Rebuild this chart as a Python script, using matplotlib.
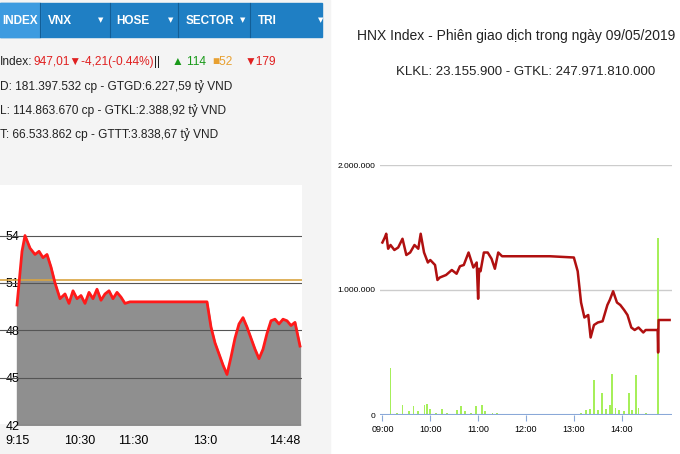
import matplotlib
matplotlib.use("Agg")
import matplotlib.pyplot as plt
from matplotlib.patches import Rectangle
import numpy as np

plt.rcParams['font.family'] = ['Liberation Sans', 'DejaVu Sans']

# ---- left panel (VN-Index intraday, compressed time index)
left_x = [0, 5, 8, 13, 18, 22, 26, 30, 34, 38, 43, 48, 52, 56, 60, 64, 68, 72, 76, 80, 84, 88, 92, 96, 100, 104, 108, 113, 190]
left_y = [949.6, 953.0, 954.0, 953.2, 952.8, 953.0, 952.6, 952.8, 952.0, 951.0, 950.0, 950.3, 949.7, 950.5, 950.0, 950.2, 949.7, 950.4, 950.0, 950.6, 949.9, 950.3, 950.5, 950.0, 950.4, 950.1, 949.7, 949.8, 949.8]
left_x2 = [190, 194, 198, 202, 206, 210, 214, 218, 222, 226, 230, 234, 238, 242, 246, 250, 254, 258, 262, 266, 270, 274, 278, 283]
left_y2 = [949.8, 948.2, 947.2, 946.5, 945.8, 945.2, 946.3, 947.5, 948.4, 948.8, 948.2, 947.5, 946.8, 946.2, 946.8, 947.8, 948.6, 948.7, 948.4, 948.7, 948.6, 948.3, 948.5, 947.0]
left_ticks = [0, 63, 116, 188, 268]
left_tick_labels = ["9:15", "10:30", "11:30", "13:0", "14:48"]
left_yticks = [942, 945, 948, 951, 954]
left_ytick_labels = ["42", "45", "48", "51", "54"]
ref_level = 951.2

# ---- right panel (HNX), hours
r_t = [9.0, 9.05, 9.08, 9.12, 9.17, 9.25, 9.33, 9.42, 9.5, 9.58, 9.67, 9.75, 9.8, 9.87, 9.95, 10.0, 10.1, 10.15, 10.2, 10.33, 10.45, 10.55, 10.62, 10.7, 10.8, 10.9, 10.97, 11.0, 11.02, 11.05, 11.12, 11.2, 11.28, 11.35, 11.42, 11.5, 12.5, 13.0, 13.08, 13.15, 13.22, 13.3, 13.35, 13.42, 13.5, 13.6, 13.7, 13.75, 13.82, 13.9, 13.97, 14.05, 14.12, 14.2, 14.27, 14.35, 14.45, 14.5, 14.55, 14.75, 14.76, 14.77, 15.0]
r_v = [1.38, 1.42, 1.45, 1.33, 1.36, 1.32, 1.34, 1.41, 1.28, 1.30, 1.36, 1.33, 1.45, 1.30, 1.22, 1.24, 1.20, 1.08, 1.10, 1.12, 1.16, 1.13, 1.19, 1.20, 1.30, 1.18, 1.22, 0.93, 1.17, 1.15, 1.30, 1.30, 1.25, 1.17, 1.30, 1.27, 1.27, 1.26, 1.15, 0.90, 0.78, 0.80, 0.62, 0.72, 0.74, 0.75, 0.88, 0.92, 0.99, 0.90, 0.88, 0.84, 0.80, 0.70, 0.68, 0.70, 0.66, 0.68, 0.68, 0.68, 0.50, 0.76, 0.76]
bar_t = [9.02, 9.08, 9.17, 9.3, 9.42, 9.55, 9.65, 9.75, 9.88, 9.93, 10.0, 10.12, 10.25, 10.35, 10.55, 10.65, 10.72, 10.85, 10.95, 11.08, 11.15, 11.3, 11.4, 13.05, 13.15, 13.25, 13.33, 13.42, 13.5, 13.58, 13.67, 13.75, 13.8, 13.87, 13.95, 14.05, 14.15, 14.22, 14.3, 14.35, 14.5, 14.75]
bar_v = [0.01, 0.01, 0.38, 0.02, 0.08, 0.03, 0.07, 0.03, 0.08, 0.09, 0.05, 0.02, 0.05, 0.02, 0.04, 0.07, 0.03, 0.02, 0.07, 0.08, 0.03, 0.02, 0.02, 0.01, 0.02, 0.04, 0.05, 0.28, 0.04, 0.18, 0.05, 0.08, 0.33, 0.06, 0.04, 0.03, 0.18, 0.04, 0.32, 0.06, 0.02, 1.42]
r_ticks = [9, 10, 11, 12, 13, 14]
r_tick_labels = ["09:00", "10:00", "11:00", "12:00", "13:00", "14:00"]
r_yticks = [0, 1.0, 2.0]
r_ytick_labels = ["0", "1.000.000", "2.000.000"]

W, H = 680, 454
fig = plt.figure(figsize=(W/100, H/100), dpi=100)
fig.patch.set_facecolor("white")

def fx(px): return px / W
def fy(py): return 1 - py / H

fig.add_artist(Rectangle((0, 0), fx(330), 1, transform=fig.transFigure, color="#f4f4f4", zorder=-5))
fig.add_artist(Rectangle((0, fy(37)), fx(322), fy(3) - fy(37), transform=fig.transFigure, color="#1f7fc4", zorder=1))
fig.add_artist(Rectangle((0, fy(37)), fx(40), fy(3) - fy(37), transform=fig.transFigure, color="#3d9be0", zorder=1))
tabs = [("INDEX", 2), ("VNX", 48), ("HOSE", 116), ("SECTOR", 186), ("TRI", 258)]
for t, x in tabs:
    fig.text(fx(x), fy(21), t, color="white", fontsize=8.5, fontweight="bold", va="center", zorder=3)
for x in [40, 110, 178, 250]:
    fig.add_artist(plt.Line2D([fx(x), fx(x)], [fy(37), fy(3)], color="#135e96", lw=0.8, zorder=2))
for x in [98, 168, 240, 318]:
    fig.text(fx(x), fy(20), "▼", color="white", fontsize=5, va="center", family="DejaVu Sans", zorder=3)

fs = 8.6
fig.text(fx(0), fy(62), "Index:", fontsize=fs, color="#222", va="center")
fig.text(fx(33), fy(62), "947,01▼-4,21(-0.44%)", fontsize=fs, color="#e02020", va="center", family=["Liberation Sans", "DejaVu Sans"])
fig.text(fx(154), fy(62), "||", fontsize=fs, color="#222", va="center")
fig.text(fx(172), fy(62), "▲ 114", fontsize=fs, color="#1a9a1a", va="center", family=["Liberation Sans", "DejaVu Sans"])
fig.text(fx(212), fy(62), "■52", fontsize=fs, color="#e8a030", va="center", family=["Liberation Sans", "DejaVu Sans"])
fig.text(fx(245), fy(62), "▼179", fontsize=fs, color="#e02020", va="center", family=["Liberation Sans", "DejaVu Sans"])
fig.text(fx(0), fy(87), "D: 181.397.532 cp - GTGD:6.227,59 tỷ VND", fontsize=fs, color="#222", va="center")
fig.text(fx(0), fy(111), "L: 114.863.670 cp - GTKL:2.388,92 tỷ VND", fontsize=fs, color="#222", va="center")
fig.text(fx(0), fy(135), "T: 66.533.862 cp - GTTT:3.838,67 tỷ VND", fontsize=fs, color="#222", va="center")

# left chart
axL = fig.add_axes([fx(0), fy(425), fx(302), fy(185) - fy(425)], zorder=2)
axL.set_facecolor("white")
xs = np.array(left_x + left_x2[1:]) + 17
ys = left_y + left_y2[1:]
axL.fill_between(xs, ys, 941, color="#8f8f8f", zorder=1)
axL.plot(xs, ys, color="#ff1a1a", lw=2, zorder=3)
for yv in left_yticks:
    axL.axhline(yv, color="#555", lw=0.8, zorder=2)
axL.axhline(ref_level, color="#d9a441", lw=1.2, zorder=2)
axL.set_xlim(0, 302)
axL.set_ylim(942, 957.2)
axL.set_yticks(left_yticks)
axL.set_yticklabels(left_ytick_labels, fontsize=9)
axL.tick_params(axis="y", direction="in", pad=-14, length=0)
axL.set_xticks(np.array(left_ticks) + 17)
axL.set_xticklabels(left_tick_labels, fontsize=9)
axL.tick_params(axis="x", length=0, pad=7)
for s in axL.spines.values():
    s.set_visible(False)

# right chart
fig.text(fx(516), fy(36), "HNX Index - Phiên giao dịch trong ngày 09/05/2019", fontsize=10, ha="center", va="center", color="#222")
fig.text(fx(526), fy(72), "KLKL: 23.155.900 - GTKL: 247.971.810.000", fontsize=9.5, ha="center", va="center", color="#222")
axR = fig.add_axes([fx(380), fy(415), fx(672) - fx(380), fy(165) - fy(415)])
axR.bar(bar_t, bar_v, width=0.04, color="#a6ef5a", zorder=2)
axR.plot(r_t, r_v, color="#b01010", lw=1.8, zorder=3)
axR.set_xlim(8.95, 15.05)
axR.set_ylim(0, 2.0)
for yv in [1.0, 2.0]:
    axR.axhline(yv, color="#cccccc", lw=1, zorder=1)
axR.axhline(0, color="#8aa8d8", lw=1.5, zorder=4)
axR.set_yticks(r_yticks)
axR.set_yticklabels(r_ytick_labels, fontsize=6)
axR.set_xticks(r_ticks)
axR.set_xticklabels(r_tick_labels, fontsize=6.5)
axR.tick_params(axis="y", length=0)
axR.tick_params(axis="x", length=4, color="#8aa8d8")
for s in axR.spines.values():
    s.set_visible(False)

fig.savefig("out.png", dpi=100)
